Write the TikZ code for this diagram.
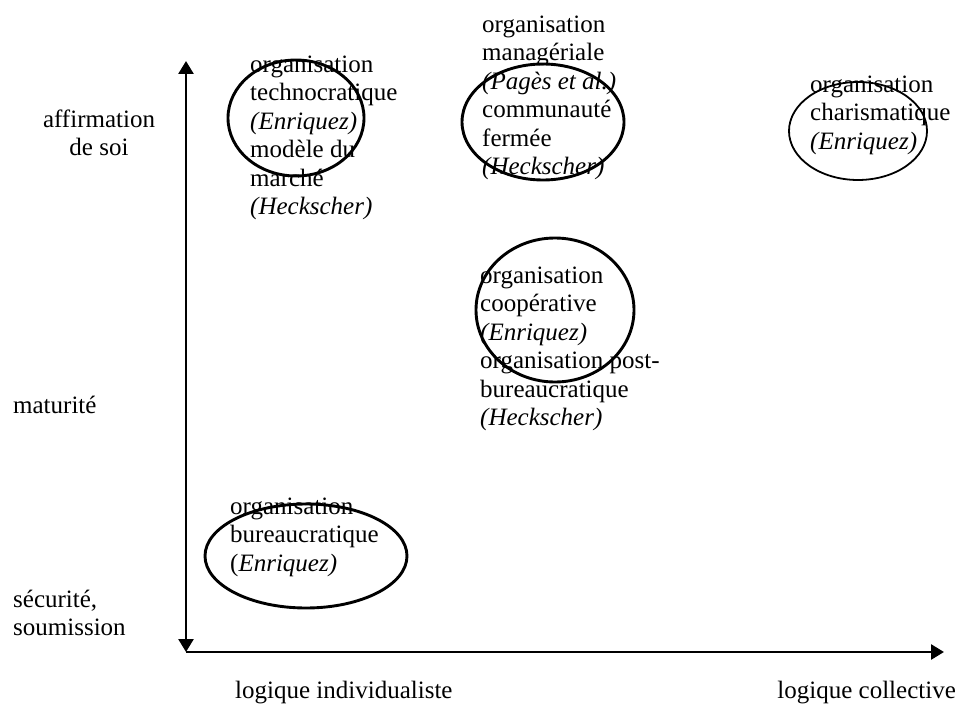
\documentclass[tikz,border=0pt]{standalone}
\usepackage{fontspec}
\setmainfont{Liberation Serif}
\usetikzlibrary{arrows.meta}
\begin{document}
\begin{tikzpicture}[x=1bp,y=-1bp,
  txt/.style={anchor=north west, inner sep=0pt, align=left, font=\fontsize{25bp}{28.5bp}\selectfont},
  lbl/.style={anchor=base west, inner sep=0pt, font=\fontsize{25bp}{28.5bp}\selectfont},
  oval/.style={draw, line width=2.9bp},
  thinoval/.style={draw, line width=1.8bp},
  tip/.tip={Triangle[length=13bp,width=15bp]},
  axisline/.style={line width=2.7bp},
]
\useasboundingbox (0,0) rectangle (961,706);

% axes
\coordinate (O) at (186,652);
\coordinate (T) at (186,61);
\coordinate (R) at (944,652);
\draw[axisline, tip-tip] (T) -- (O);
\draw[axisline, -tip] (O) -- (R);

% axis labels
\node[txt, anchor=north, align=center] (aff) at (99,107) {\strut affirmation\\de soi};
\node[lbl] (mat) at (13,413) {maturité};
\node[txt] (sec) at (13,587) {\strut sécurité,\\soumission};
\node[lbl] (li) at (235,698) {logique individualiste};
\node[lbl, anchor=base east] (lc) at (956,698) {logique collective};

% blocks
\node[txt] (techno) at (250,52) {\strut organisation\\technocratique\\\textit{(Enriquez)}\\modèle du\\marché\\\textit{(Heckscher)}};
\node[txt] (manag) at (482,12) {\strut organisation\\managériale\\\textit{(Pagès et al.)}\\communauté\\fermée\\\textit{(Heckscher)}};
\node[txt] (charis) at (810,72) {\strut organisation\\charismatique\\\textit{(Enriquez)}};
\node[txt] (coop) at (480,263) {\strut organisation\\coopérative\\\textit{(Enriquez)}\\organisation post-\\bureaucratique\\\textit{(Heckscher)}};
\node[txt] (bureau) at (230,494) {\strut organisation\\bureaucratique\\(\textit{Enriquez)}};

% ovals
\draw[oval] (296,118) ellipse [x radius=68, y radius=58];
\draw[oval] (543,122) ellipse [x radius=81, y radius=58];
\draw[thinoval] (858,131) ellipse [x radius=69, y radius=49];
\draw[oval] (555,310) ellipse [x radius=79, y radius=72];
\draw[oval] (306,556) ellipse [x radius=101, y radius=52];
\end{tikzpicture}
\end{document}
